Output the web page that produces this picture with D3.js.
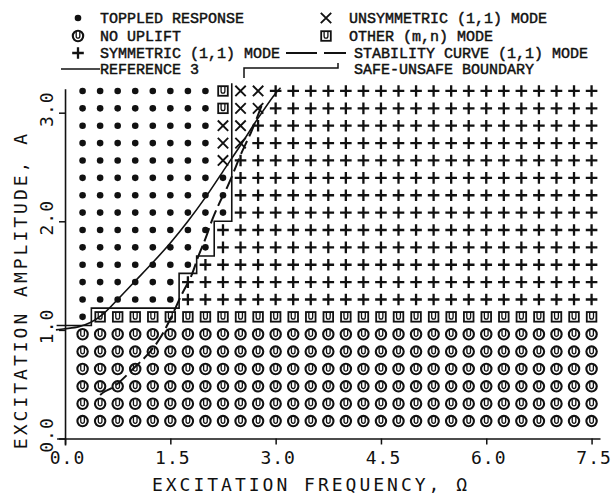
<!DOCTYPE html>
<html>
<head>
<meta charset="utf-8">
<script src="https://cdn.jsdelivr.net/npm/d3@7"></script>
<style>
  body { margin: 0; background: #fff; }
  svg { display: block; }
</style>
</head>
<body>
<svg id="chart" width="611" height="495"></svg>
<script>
// Excitation frequencies of the simulation grid (columns)
const omegaGrid = [0.25, 0.5, 0.75, 1.0, 1.25, 1.5, 1.75, 2.0, 2.25, 2.5,
                   2.75, 3.0, 3.25, 3.5, 3.75, 4.0, 4.25, 4.5, 4.75, 5.0,
                   5.25, 5.5, 5.75, 6.0, 6.25, 6.5, 6.75, 7.0, 7.25, 7.5];
// Excitation amplitudes of the simulation grid (rows, top to bottom)
const amplitudeGrid = [3.2, 3.04, 2.88, 2.72, 2.56, 2.4, 2.24, 2.08, 1.92, 1.76,
                       1.6, 1.44, 1.28, 1.12, 0.96, 0.8, 0.64, 0.48, 0.32, 0.16];
// Response found at each grid cell, one string per amplitude row.
// T toppled, N no uplift, S symmetric (1,1), U unsymmetric (1,1), M other (m,n) mode
const responseRows = [
  "TTTTTTTTMU" + "USSSSSSSSS" + "SSSSSSSSSS",
  "TTTTTTTTMU" + "USSSSSSSSS" + "SSSSSSSSSS",
  "TTTTTTTTUU" + "SSSSSSSSSS" + "SSSSSSSSSS",
  "TTTTTTTTUU" + "SSSSSSSSSS" + "SSSSSSSSSS",
  "TTTTTTTTUS" + "SSSSSSSSSS" + "SSSSSSSSSS",
  "TTTTTTTTTS" + "SSSSSSSSSS" + "SSSSSSSSSS",
  "TTTTTTTTTS" + "SSSSSSSSSS" + "SSSSSSSSSS",
  "TTTTTTTTTS" + "SSSSSSSSSS" + "SSSSSSSSSS",
  "TTTTTTTTSS" + "SSSSSSSSSS" + "SSSSSSSSSS",
  "TTTTTTTTSS" + "SSSSSSSSSS" + "SSSSSSSSSS",
  "TTTTTTTSSS" + "SSSSSSSSSS" + "SSSSSSSSSS",
  "TTTTTTSSSS" + "SSSSSSSSSS" + "SSSSSSSSSS",
  "TTTTTTSSSS" + "SSSSSSSSSS" + "SSSSSSSSSS",
  "TMMMMMMMMM" + "MMMMMMMMMM" + "MMMMMMMMMM",
  "NNNNNNNNNN" + "NNNNNNNNNN" + "NNNNNNNNNN",
  "NNNNNNNNNN" + "NNNNNNNNNN" + "NNNNNNNNNN",
  "NNNNNNNNNN" + "NNNNNNNNNN" + "NNNNNNNNNN",
  "NNNNNNNNNN" + "NNNNNNNNNN" + "NNNNNNNNNN",
  "NNNNNNNNNN" + "NNNNNNNNNN" + "NNNNNNNNNN",
  "NNNNNNNNNN" + "NNNNNNNNNN" + "NNNNNNNNNN"
];

// Reference 3 curve
const reference3Omega = [-0.13, 0.0, 0.2, 0.37, 0.55, 0.75, 1.0, 1.25, 1.5, 1.75, 2.0, 2.25, 2.5, 2.75, 3.0, 3.07];
const reference3Amp   = [1.0, 1.01, 1.03, 1.07, 1.15, 1.28, 1.45, 1.62, 1.8, 2.0, 2.22, 2.46, 2.7, 2.95, 3.18, 3.23];

// Stability curve of the (1,1) mode
const stabilityOmega = [0.5, 0.56, 0.7, 1.0, 1.2, 1.35, 1.5, 1.65, 1.8, 1.9, 2.0, 2.1, 2.2, 2.3, 2.4, 2.5, 2.65, 2.75, 2.82];
const stabilityAmp   = [0.4, 0.43, 0.48, 0.66, 0.79, 0.92, 1.1, 1.31, 1.5, 1.68, 1.84, 2.02, 2.17, 2.3, 2.45, 2.61, 2.82, 2.98, 3.1];

// Safe-unsafe boundary (stepped)
const boundaryOmega = [-0.12, 0.375, 0.375, 1.625, 1.625, 1.875, 1.875, 2.125, 2.125, 2.375, 2.375];
const boundaryAmp   = [1.04, 1.04, 1.2, 1.2, 1.52, 1.52, 1.68, 1.68, 2.0, 2.0, 3.27];

// Axis ticks
const omegaTicks = [0.0, 1.5, 3.0, 4.5, 6.0, 7.5];
const ampTicks = [0.0, 1.0, 2.0, 3.0];

const ink = "#111";
const svg = d3.select("#chart");

const x = d3.scaleLinear().domain([-0.12, 7.62]).range([56.6, 600]);
const y = d3.scaleLinear().domain([-0.06, 3.22]).range([445, 88.8]);

// ---- axes ----
const plotFont = "'DejaVu Sans Mono', monospace";

const xAxis = svg.append("g")
  .attr("transform", `translate(0,${y(0)})`)
  .call(d3.axisBottom(x).tickValues(omegaTicks).tickFormat(d3.format(".1f"))
        .tickSizeInner(6).tickSizeOuter(0).tickPadding(0));
xAxis.select(".domain").attr("stroke", ink).attr("stroke-width", 1.6);
xAxis.selectAll(".tick line").attr("stroke", ink).attr("stroke-width", 1.5);
xAxis.selectAll(".tick text")
  .attr("fill", ink)
  .attr("x", 2).attr("y", 26).attr("dy", null)
  .style("font-family", plotFont).style("font-size", "18px")
  .style("letter-spacing", "1px");

const yAxis = svg.append("g")
  .attr("transform", `translate(${x(0)},0)`)
  .call(d3.axisLeft(y).tickValues(ampTicks).tickFormat(d3.format(".1f"))
        .tickSizeInner(6).tickSizeOuter(0).tickPadding(0));
yAxis.select(".domain").attr("stroke", ink).attr("stroke-width", 1.6);
yAxis.selectAll(".tick line").attr("stroke", ink).attr("stroke-width", 1.5);
yAxis.selectAll(".tick text")
  .attr("fill", ink)
  .attr("x", 0).attr("y", 0).attr("dy", "0.36em")
  .attr("text-anchor", "middle")
  .attr("transform", "translate(-19,-4) rotate(-90)")
  .style("font-family", plotFont).style("font-size", "18px")
  .style("letter-spacing", "1px");

svg.append("text")
  .attr("x", 311).attr("y", 491)
  .attr("text-anchor", "middle")
  .attr("fill", ink)
  .style("font-family", plotFont).style("font-size", "18px")
  .style("letter-spacing", "3px")
  .text("EXCITATION FREQUENCY, Ω");

svg.append("text")
  .attr("transform", "translate(21,290) rotate(-90)")
  .attr("dy", "0.36em")
  .attr("text-anchor", "middle")
  .attr("fill", ink)
  .style("font-family", plotFont).style("font-size", "18px")
  .style("letter-spacing", "3px")
  .text("EXCITATION AMPLITUDE, A");

// ---- symbols ----
function drawSymbol(g, code) {
  if (code === "T") {
    g.append("circle").attr("r", 3.3).attr("fill", ink);
  } else if (code === "N") {
    g.append("circle").attr("r", 5.2).attr("fill", "none")
      .attr("stroke", ink).attr("stroke-width", 2.1);
    g.append("path").attr("d", "M-1.8,-4.2V0.4A1.8,1.8 0 0 0 1.8,0.4V-4.2")
      .attr("fill", "none").attr("stroke", ink).attr("stroke-width", 1.3);
  } else if (code === "M") {
    g.append("rect").attr("x", -4.8).attr("y", -4.8).attr("width", 9.6).attr("height", 9.6)
      .attr("fill", "none").attr("stroke", ink).attr("stroke-width", 1.8);
    g.append("path").attr("d", "M-1.9,-4.8V0.3A1.9,1.9 0 0 0 1.9,0.3V-4.8")
      .attr("fill", "none").attr("stroke", ink).attr("stroke-width", 1.3);
  } else if (code === "S") {
    g.append("path").attr("d", "M-5.8,0H5.8M0,-5.8V5.8")
      .attr("stroke", ink).attr("stroke-width", 2.3);
  } else if (code === "U") {
    g.append("path").attr("d", "M-5.2,-5.2L5.2,5.2M-5.2,5.2L5.2,-5.2")
      .attr("stroke", ink).attr("stroke-width", 1.9);
  }
}

const cells = [];
responseRows.forEach((row, i) => {
  omegaGrid.forEach((om, j) => {
    cells.push({ omega: om, amp: amplitudeGrid[i], code: row[j] });
  });
});

svg.append("g").selectAll("g")
  .data(cells)
  .join("g")
  .attr("transform", d => `translate(${x(d.omega)},${y(d.amp)})`)
  .each(function (d) { drawSymbol(d3.select(this), d.code); });

// ---- curves ----
const curveLine = d3.line().x(d => x(d[0])).y(d => y(d[1])).curve(d3.curveCatmullRom);
const stepLine = d3.line().x(d => x(d[0])).y(d => y(d[1]));

svg.append("path")
  .datum(d3.zip(reference3Omega, reference3Amp))
  .attr("d", curveLine)
  .attr("fill", "none").attr("stroke", ink).attr("stroke-width", 1.6);

svg.append("path")
  .datum(d3.zip(stabilityOmega, stabilityAmp))
  .attr("d", curveLine)
  .attr("fill", "none").attr("stroke", ink).attr("stroke-width", 2)
  .attr("stroke-dasharray", "14,5");

svg.append("path")
  .datum(d3.zip(boundaryOmega, boundaryAmp))
  .attr("d", stepLine)
  .attr("fill", "none").attr("stroke", ink).attr("stroke-width", 1.6);

// ---- legend ----
const legendFont = "'Liberation Mono', 'Courier New', monospace";
const legend = svg.append("g");
function legendText(xp, yp, txt) {
  legend.append("text").attr("x", xp).attr("y", yp + 5)
    .attr("fill", ink).attr("stroke", ink).attr("stroke-width", 0.45)
    .style("font-family", legendFont).style("font-size", "15px")
    .text(txt);
}
const rowsY = [18, 36, 53, 69];
[["T", "TOPPLED RESPONSE"], ["N", "NO UPLIFT"], ["S", "SYMMETRIC (1,1) MODE"]].forEach((e, i) => {
  drawSymbol(legend.append("g").attr("transform", `translate(78,${rowsY[i]})`), e[0]);
  legendText(100, rowsY[i], e[1]);
});
legend.append("path").attr("d", `M61,${rowsY[3]}H100`).attr("stroke", ink).attr("stroke-width", 1.5);
legendText(100, rowsY[3], "REFERENCE 3");

[["U", "UNSYMMETRIC (1,1) MODE"], ["M", "OTHER  (m,n) MODE"]].forEach((e, i) => {
  drawSymbol(legend.append("g").attr("transform", `translate(326,${rowsY[i]})`), e[0]);
  legendText(349, rowsY[i], e[1]);
});
legend.append("path").attr("d", `M286,${rowsY[2]}H317M324,${rowsY[2]}H346`)
  .attr("stroke", ink).attr("stroke-width", 2);
legendText(354, rowsY[2], "STABILITY CURVE (1,1) MODE");
legend.append("path").attr("d", `M244,${rowsY[3] + 9}V${rowsY[3] - 1}H338V${rowsY[3] - 6}`)
  .attr("fill", "none").attr("stroke", ink).attr("stroke-width", 1.5);
legendText(354, rowsY[3], "SAFE-UNSAFE BOUNDARY");
</script>
</body>
</html>
